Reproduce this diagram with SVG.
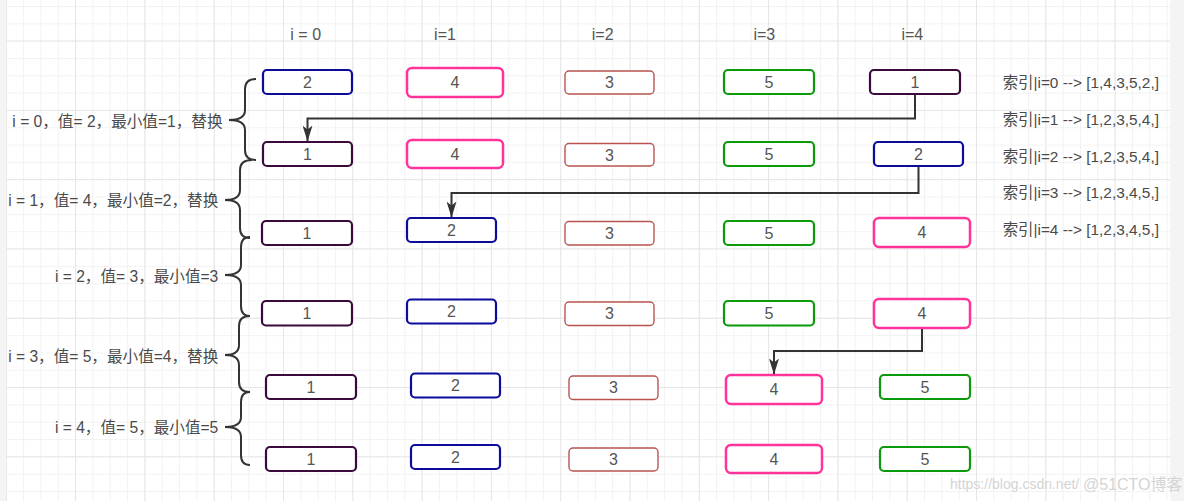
<svg xmlns="http://www.w3.org/2000/svg" width="1184" height="501" viewBox="0 0 1184 501">
<defs>
<pattern id="minor" patternUnits="userSpaceOnUse" x="5.8" y="6" width="17.325" height="17.325">
<path d="M0.5 0 V17.325 M0 0.5 H17.325" fill="none" stroke="#f2f2f2" stroke-width="1"/>
</pattern>
<pattern id="major" patternUnits="userSpaceOnUse" x="5.8" y="-28.8" width="69.3" height="69.3">
<path d="M0.5 0 V69.3 M0 0.5 H69.3" fill="none" stroke="#e6e6e6" stroke-width="1"/>
</pattern>
<marker id="arr" markerUnits="userSpaceOnUse" markerWidth="16" markerHeight="10" viewBox="0 0 16 10" refX="15.5" refY="5" orient="auto">
<path d="M0 0 L16 5 L0 10 L4 5 z" fill="#333"/>
</marker>
</defs>
<style>
.t{font-family:"Liberation Sans","Noto Sans CJK SC",sans-serif;font-size:15.6px;fill:#4a4a4a}
.bt{font-family:"Liberation Sans","Noto Sans CJK SC",sans-serif;font-size:16px;fill:#555;text-anchor:middle}
.rt{font-family:"Liberation Sans","Noto Sans CJK SC",sans-serif;font-size:15.4px;fill:#4a4a4a}
.hd{font-family:"Liberation Sans","Noto Sans CJK SC",sans-serif;font-size:16px;fill:#555;text-anchor:middle}
.navy{fill:#fff;stroke:#0b0b9e;stroke-width:2.2}
.pink{fill:#fff;stroke:#ff3399;stroke-width:2.5}
.red{fill:#fff;stroke:#b85450;stroke-width:1.4}
.green{fill:#fff;stroke:#0a9a0a;stroke-width:2.2}
.purple{fill:#fff;stroke:#3a0a3c;stroke-width:2.2}
.brace{fill:none;stroke:#333;stroke-width:2}
.conn{fill:none;stroke:#333;stroke-width:2}
.wm{font-family:"Liberation Sans","Noto Sans CJK SC",sans-serif;fill:#d4d4d4}
</style>
<rect x="0" y="0" width="1184" height="501" fill="#f4f4f4"/>
<rect x="5.8" y="0" width="1164.4" height="501" fill="#ffffff"/>
<rect x="5.8" y="0" width="1164.4" height="501" fill="url(#minor)"/>
<rect x="5.8" y="0" width="1164.4" height="501" fill="url(#major)"/>

<g id="headers">
<text class="hd" x="305.7" y="40">i = 0</text>
<text class="hd" x="445" y="40">i=1</text>
<text class="hd" x="602.7" y="40">i=2</text>
<text class="hd" x="764.3" y="40">i=3</text>
<text class="hd" x="912.3" y="40">i=4</text>
</g>

<g id="steps">
<text class="t" x="222.5" y="126.7" text-anchor="end">i = 0，值= 2，最小值=1，替换</text>
<text class="t" x="218.3" y="205.7" text-anchor="end">i = 1，值= 4，最小值=2，替换</text>
<text class="t" x="218.3" y="281.7" text-anchor="end">i = 2，值= 3，最小值=3</text>
<text class="t" x="218.3" y="362.4" text-anchor="end">i = 3，值= 5，最小值=4，替换</text>
<text class="t" x="218.3" y="433.4" text-anchor="end">i = 4，值= 5，最小值=5</text>
</g>

<g id="braces">
<path class="brace" d="M256 79 Q245 79 245 89 L245 110 Q245 120 229 120 Q245 120 245 130 L245 150 Q245 160 256 160"/>
<path class="brace" d="M252 160 Q240 160 240 170 L240 190 Q240 200 225 200 Q240 200 240 210 L240 228 Q240 238 250 238"/>
<path class="brace" d="M250 237 Q241 237 241 247 L241 265 Q241 275 225 275 Q241 275 241 285 L241 306 Q241 316 250 316"/>
<path class="brace" d="M250 316 Q239 316 239 326 L239 345 Q239 355 225 355 Q239 355 239 365 L239 382 Q239 392 250 392"/>
<path class="brace" d="M250 392 Q241 392 241 402 L241 417 Q241 427 225 427 Q241 427 241 437 L241 455 Q241 465 250 465"/>
</g>

<g id="row1">
<g id="r1c0"><rect class="navy" x="263" y="70" width="89" height="24" rx="4"/><text class="bt" x="307.5" y="87.7">2</text></g>
<g id="r1c1"><rect class="pink" x="407" y="68" width="96" height="29" rx="5"/><text class="bt" x="455" y="88.2">4</text></g>
<g id="r1c2"><rect class="red" x="565" y="71" width="89" height="23" rx="4"/><text class="bt" x="609.5" y="88.2">3</text></g>
<g id="r1c3"><rect class="green" x="724" y="70" width="90" height="24" rx="4"/><text class="bt" x="769" y="87.7">5</text></g>
<g id="r1c4"><rect class="purple" x="870" y="70" width="90" height="24" rx="4"/><text class="bt" x="915" y="87.7">1</text></g>
</g>
<g id="row2">
<g id="r2c0"><rect class="purple" x="263" y="142" width="89" height="24" rx="4"/><text class="bt" x="307.5" y="159.7">1</text></g>
<g id="r2c1"><rect class="pink" x="407" y="140" width="96" height="28" rx="5"/><text class="bt" x="455" y="159.7">4</text></g>
<g id="r2c2"><rect class="red" x="565" y="143.5" width="89" height="22.5" rx="4"/><text class="bt" x="609.5" y="160.5">3</text></g>
<g id="r2c3"><rect class="green" x="724" y="142" width="90" height="24" rx="4"/><text class="bt" x="769" y="159.7">5</text></g>
<g id="r2c4"><rect class="navy" x="874" y="142" width="89" height="24" rx="4"/><text class="bt" x="918.5" y="159.7">2</text></g>
</g>
<g id="row3">
<g id="r3c0"><rect class="purple" x="262" y="221" width="90" height="24" rx="4"/><text class="bt" x="307" y="238.7">1</text></g>
<g id="r3c1"><rect class="navy" x="407" y="218" width="89" height="24" rx="4"/><text class="bt" x="451.5" y="235.7">2</text></g>
<g id="r3c2"><rect class="red" x="565" y="221.5" width="89" height="23.5" rx="4"/><text class="bt" x="609.5" y="238.9">3</text></g>
<g id="r3c3"><rect class="green" x="724" y="221" width="90" height="24" rx="4"/><text class="bt" x="769" y="238.7">5</text></g>
<g id="r3c4"><rect class="pink" x="874" y="218" width="96" height="29" rx="5"/><text class="bt" x="922" y="238.2">4</text></g>
</g>
<g id="row4">
<g id="r4c0"><rect class="purple" x="262" y="301" width="90" height="24.5" rx="4"/><text class="bt" x="307" y="319">1</text></g>
<g id="r4c1"><rect class="navy" x="407" y="299.5" width="89" height="24" rx="4"/><text class="bt" x="451.5" y="317.2">2</text></g>
<g id="r4c2"><rect class="red" x="565" y="302" width="89" height="23.5" rx="4"/><text class="bt" x="609.5" y="319.4">3</text></g>
<g id="r4c3"><rect class="green" x="724" y="301" width="90" height="24.5" rx="4"/><text class="bt" x="769" y="319">5</text></g>
<g id="r4c4"><rect class="pink" x="874" y="299" width="96" height="29" rx="5"/><text class="bt" x="922" y="319.2">4</text></g>
</g>
<g id="row5">
<g id="r5c0"><rect class="purple" x="266" y="375" width="90" height="24" rx="4"/><text class="bt" x="311" y="392.7">1</text></g>
<g id="r5c1"><rect class="navy" x="411" y="373.5" width="89" height="24" rx="4"/><text class="bt" x="455.5" y="391.2">2</text></g>
<g id="r5c2"><rect class="red" x="569" y="376" width="89" height="23.5" rx="4"/><text class="bt" x="613.5" y="393.4">3</text></g>
<g id="r5c3"><rect class="pink" x="726" y="375" width="96" height="29" rx="5"/><text class="bt" x="774" y="395.2">4</text></g>
<g id="r5c4"><rect class="green" x="880" y="375" width="90" height="24" rx="4"/><text class="bt" x="925" y="392.7">5</text></g>
</g>
<g id="row6">
<g id="r6c0"><rect class="purple" x="266" y="447" width="90" height="24" rx="4"/><text class="bt" x="311" y="464.7">1</text></g>
<g id="r6c1"><rect class="navy" x="411" y="445" width="89" height="24" rx="4"/><text class="bt" x="455.5" y="462.7">2</text></g>
<g id="r6c2"><rect class="red" x="569" y="448" width="89" height="23" rx="4"/><text class="bt" x="613.5" y="465.2">3</text></g>
<g id="r6c3"><rect class="pink" x="726" y="445" width="96" height="28" rx="5"/><text class="bt" x="774" y="464.7">4</text></g>
<g id="r6c4"><rect class="green" x="880" y="447" width="90" height="24" rx="4"/><text class="bt" x="925" y="464.7">5</text></g>
</g>

<g id="connectors">
<path class="conn" d="M915 95 V118.5 H307.5 V141" marker-end="url(#arr)"/>
<path class="conn" d="M918.5 167 V193 H451.5 V217" marker-end="url(#arr)"/>
<path class="conn" d="M922 329 V351 H774 V374" marker-end="url(#arr)"/>
</g>

<g id="results">
<text class="rt" x="1002.7" y="88">索引|i=0 --&gt; [1,4,3,5,2,]</text>
<text class="rt" x="1002.7" y="125.3">索引|i=1 --&gt; [1,2,3,5,4,]</text>
<text class="rt" x="1002.7" y="162">索引|i=2 --&gt; [1,2,3,5,4,]</text>
<text class="rt" x="1002.7" y="198">索引|i=3 --&gt; [1,2,3,4,5,]</text>
<text class="rt" x="1002.7" y="234.6">索引|i=4 --&gt; [1,2,3,4,5,]</text>
</g>

<g id="watermark">
<text class="wm" x="950" y="489" font-size="14">https://blog.csdn.net/</text>
<text class="wm" x="1083" y="490" font-size="16" fill="#c8c8c8">@51CTO博客</text>
</g>
</svg>
